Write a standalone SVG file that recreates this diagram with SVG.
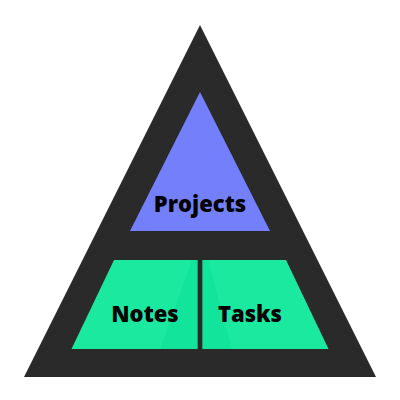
<svg xmlns="http://www.w3.org/2000/svg" width="400" height="400" viewBox="0 0 400 400">
  <style>
    .lbl { font-family: "Open Sans", "DejaVu Sans", sans-serif; font-weight: 800; fill: #000; text-anchor: middle; }
    .green { fill: #1ce9a0; }
    .shade { fill: #0ce398; opacity: 0.6; }
  </style>
  <rect width="400" height="400" fill="#ffffff"/>
  <g id="pyramid">
    <polygon points="200,25 24,377 376,377" fill="#2a2a2a"/>
  </g>
  <g id="projects">
    <polygon points="200,92 130,231 270,231" fill="#7480fb"/>
    <text class="lbl" x="200" y="212" font-size="22">Projects</text>
  </g>
  <g id="notes">
    <polygon class="green" points="114,260 197.5,260 197.5,349 71.5,349"/>
    <polygon class="shade" points="192,260 197.5,260 197.5,349 160,349"/>
    <text class="lbl" x="145" y="322" font-size="22">Notes</text>
  </g>
  <g id="tasks">
    <polygon class="green" points="202.5,260 286,260 328.5,349 202.5,349"/>
    <polygon class="shade" points="202.5,260 208,260 232,349 202.5,349"/>
    <text class="lbl" x="250" y="322" font-size="22">Tasks</text>
  </g>
  <g id="connectors"></g>
</svg>
